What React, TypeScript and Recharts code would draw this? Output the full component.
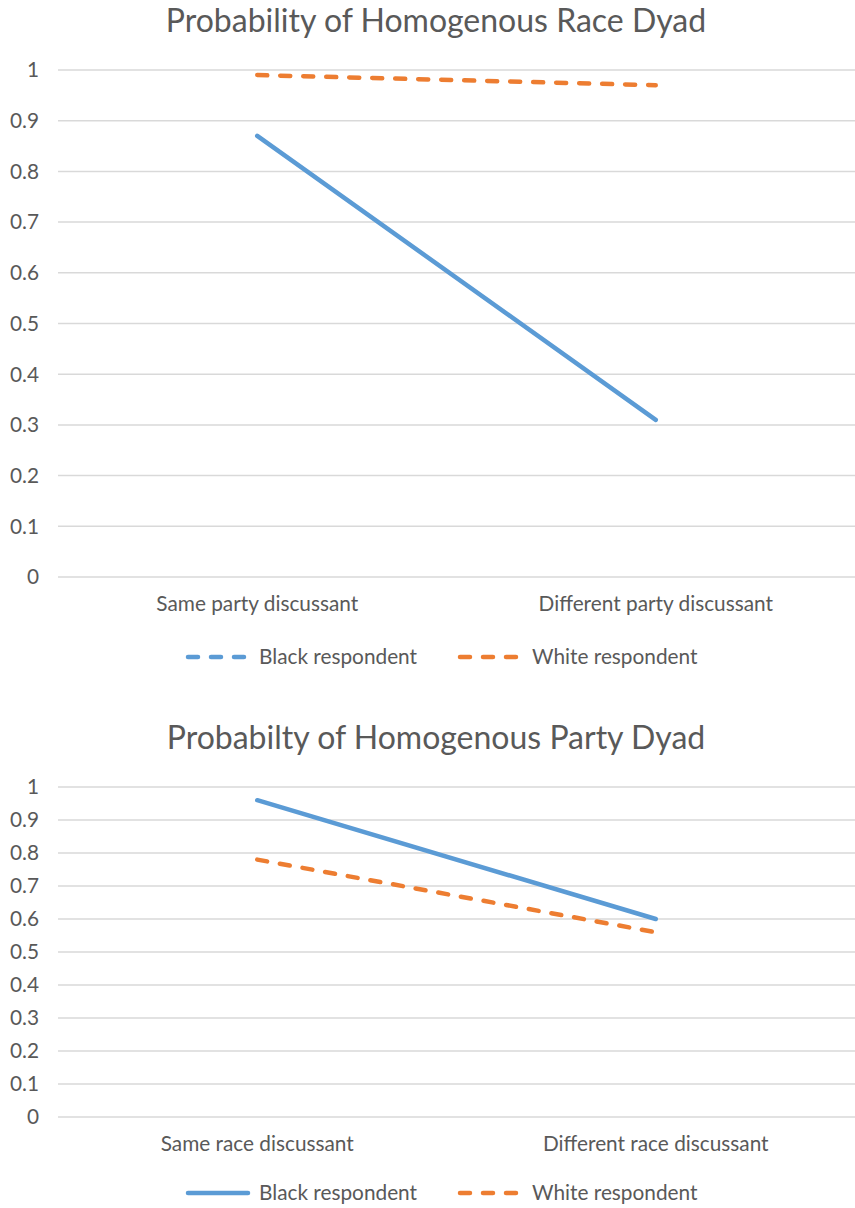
import React from "react";
import { LineChart, Line, XAxis, YAxis, CartesianGrid } from "recharts";

const raceCategories = ["Same party discussant", "Different party discussant"];
const raceBlack = [0.87, 0.31];
const raceWhite = [0.99, 0.97];

const partyCategories = ["Same race discussant", "Different race discussant"];
const partyBlack = [0.96, 0.6];
const partyWhite = [0.78, 0.56];

const yTicks = [0, 0.1, 0.2, 0.3, 0.4, 0.5, 0.6, 0.7, 0.8, 0.9, 1];

const BLUE = "#5B9BD5";
const ORANGE = "#ED7D31";
const GRID = "#D9D9D9";
const TEXT = "#595959";
const FONT = "Lato, 'Open Sans', sans-serif";
const DASH = "10 13";
const TICK_FS = 20.8;

const build = (cats: string[], b: number[], w: number[]) =>
  cats.map((c, i) => ({ name: c, black: b[i], white: w[i] }));

const fmt = (v: number) => (v === 0 || v === 1 ? String(v) : v.toFixed(1));

function Legend({ top, blackDashed }: { top: number; blackDashed: boolean }) {
  return (
    <svg
      width={855}
      height={30}
      style={{ position: "absolute", left: 0, top: top }}
    >
      <line
        x1={188}
        x2={248}
        y1={15}
        y2={15}
        stroke={BLUE}
        strokeWidth={4.5}
        strokeLinecap="round"
        strokeDasharray={blackDashed ? DASH : undefined}
      />
      <text x={259} y={22} fontSize={TICK_FS} fill={TEXT} fontFamily={FONT}>
        Black respondent
      </text>
      <line
        x1={460}
        x2={520}
        y1={15}
        y2={15}
        stroke={ORANGE}
        strokeWidth={4.5}
        strokeLinecap="round"
        strokeDasharray={DASH}
      />
      <text x={532} y={22} fontSize={TICK_FS} fill={TEXT} fontFamily={FONT}>
        White respondent
      </text>
    </svg>
  );
}

function Chart({
  data,
  top,
  plotTop,
  plotBottom,
}: {
  data: any[];
  top: number;
  plotTop: number;
  plotBottom: number;
}) {
  const xAxisH = 45;
  const height = plotBottom - top + xAxisH;
  return (
    <div style={{ position: "absolute", left: 0, top: top }}>
      <LineChart
        width={855}
        height={height}
        data={data}
        margin={{ top: plotTop - top, right: 0, left: 0, bottom: 0 }}
      >
        <CartesianGrid vertical={false} stroke={GRID} strokeWidth={1.5} />
        <XAxis
          dataKey="name"
          scale="band"
          axisLine={false}
          tickLine={false}
          tickSize={0}
          tickMargin={19}
          height={xAxisH}
          interval={0}
          tick={{ fill: TEXT, fontSize: TICK_FS, fontFamily: FONT }}
        />
        <YAxis
          width={58}
          domain={[0, 1]}
          ticks={yTicks}
          tickFormatter={fmt}
          axisLine={false}
          tickLine={false}
          tickSize={0}
          tickMargin={19}
          interval={0}
          tick={{ fill: TEXT, fontSize: TICK_FS, fontFamily: FONT }}
        />
        <Line
          dataKey="black"
          stroke={BLUE}
          strokeWidth={4.5}
          strokeLinecap="round"
          dot={false}
          activeDot={false}
          isAnimationActive={false}
        />
        <Line
          dataKey="white"
          stroke={ORANGE}
          strokeWidth={4.5}
          strokeLinecap="round"
          strokeDasharray={DASH}
          dot={false}
          activeDot={false}
          isAnimationActive={false}
        />
      </LineChart>
    </div>
  );
}

const titleStyle = (top: number): React.CSSProperties => ({
  position: "absolute",
  left: 0,
  top: top,
  width: 872,
  textAlign: "center",
  fontFamily: FONT,
  fontSize: 32,
  color: TEXT,
  lineHeight: "40px",
  whiteSpace: "nowrap",
});

export default function App() {
  return (
    <div
      style={{
        position: "absolute",
        left: 0,
        top: 0,
        width: 855,
        height: 1208,
        background: "#fff",
        overflow: "hidden",
      }}
    >
      <div style={titleStyle(0)}>Probability of Homogenous Race Dyad</div>
      <Chart
        data={build(raceCategories, raceBlack, raceWhite)}
        top={40}
        plotTop={70}
        plotBottom={577}
      />
      <Legend top={642} blackDashed={true} />
      <div style={titleStyle(717)}>Probabilty of Homogenous Party Dyad</div>
      <Chart
        data={build(partyCategories, partyBlack, partyWhite)}
        top={760}
        plotTop={787}
        plotBottom={1117}
      />
      <Legend top={1178} blackDashed={false} />
    </div>
  );
}
